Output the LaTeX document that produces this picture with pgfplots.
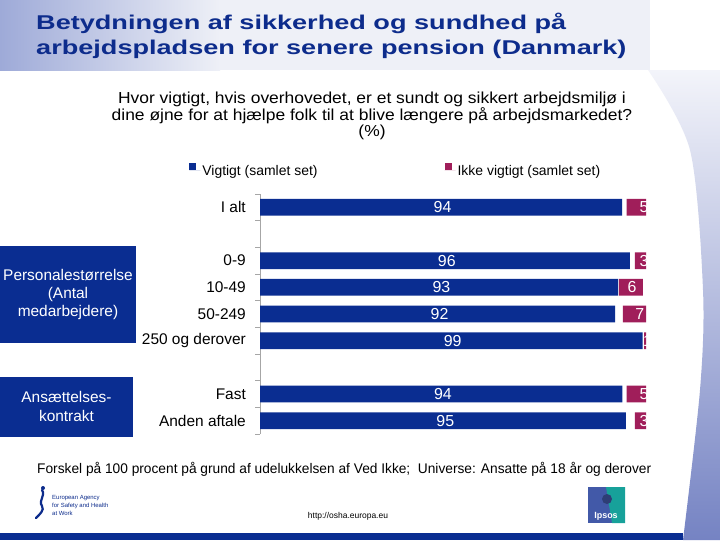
\documentclass[border=0pt]{standalone}
\usepackage{pgfplots}
\pgfplotsset{compat=1.18}
\usepackage{pgfplotstable}
\usepackage{fontspec}
\setmainfont{Liberation Sans}
\usepackage{graphicx}

\definecolor{barblue}{HTML}{0A2D91}
\definecolor{barpink}{HTML}{A01E5A}
\definecolor{titleblue}{HTML}{0D2C8C}
\definecolor{bandleft}{HTML}{9EAAD8}
\definecolor{bandlight}{HTML}{EEF0F7}
\definecolor{swtop}{HTML}{F3F4FA}
\definecolor{swbot}{HTML}{7583C3}
\definecolor{ipsblue}{HTML}{4259A8}
\definecolor{ipsteal}{HTML}{17A19A}

\newcommand{\fs}[1]{\fontsize{#1}{#1}\selectfont}

% y: 8 = I alt (top) ... 0 = Anden aftale (bottom)
\pgfplotstableread{
y vig vedikke ikke
8 93.8 1.2 5.0
6 95.8 1.3 3.2
5 92.8 0.2 6.2
4 92.0 2.0 7.0
3 99.1 0.4 1.0
1 93.9 1.1 5.0
0 94.8 2.3 3.2
}\bars

\pgfplotstableread{
y bx bl px pl
8 47.3 94 99.5 5
6 48.4 96 99.5 3
5 47.0 93 96.4 6
4 46.5 92 98.4 7
3 49.9 99 100.4 1
1 47.4 94 99.5 5
0 48.0 95 99.5 3
}\labs

\begin{document}
\begin{tikzpicture}
\begin{scope}[x=1bp,y=1bp]
\fill[white] (0,0) rectangle (720,540);
\path[use as bounding box] (0,0) rectangle (720,540);

% background decorations
\fill[bandlight] (0,470) rectangle (650,540);
\shade[left color=bandleft, right color=bandlight] (0,470) rectangle (220,540);
\shade[top color=swtop, bottom color=swbot]
  plot[smooth] coordinates {(648,470) (690,390) (703,250) (700,150) (683,0)}
  -- (720,0) -- (720,470) -- cycle;
\fill[barblue] (0,0) rectangle (683,7.3);

% title
\node[anchor=base west, inner sep=0, text=titleblue] at (36,510.5)
  {\scalebox{1.36}[1]{\fs{20}\bfseries Betydningen af sikkerhed og sundhed på}};
\node[anchor=base west, inner sep=0, text=titleblue] at (36,485)
  {\scalebox{1.36}[1]{\fs{20}\bfseries arbejdspladsen for senere pension (Danmark)}};

% subtitle
\node[anchor=base, inner sep=0] at (372,437)
  {\scalebox{1.094}[1]{\fs{16}Hvor vigtigt, hvis overhovedet, er et sundt og sikkert arbejdsmiljø i}};
\node[anchor=base, inner sep=0] at (372,420)
  {\scalebox{1.094}[1]{\fs{16}dine øjne for at hjælpe folk til at blive længere på arbejdsmarkedet?}};
\node[anchor=base, inner sep=0] at (372,404)
  {\scalebox{1.094}[1]{\fs{16}(\%)}};

% group boxes
\fill[barblue] (0,197) rectangle (136,294);
\node[align=center, text=white, inner sep=0, font=\fontsize{15.5}{18.5}\selectfont]
  at (68,245.5) {Personalestørrelse\\(Antal\\medarbejdere)};
\fill[barblue] (0,103.3) rectangle (133,163.3);
\node[align=center, text=white, inner sep=0, font=\fontsize{15.5}{20}\selectfont]
  at (66.5,133.5) {Ansættelses-\\kontrakt};

% footnote
\node[anchor=base west, inner sep=0] at (37,67)
  {\resizebox{614bp}{\height}{\fs{14}Forskel på 100 procent på grund af udelukkelsen af Ved Ikke;\ \ Universe: Ansatte på 18 år og derover}};

% EU-OSHA logo (simplified)
\draw[titleblue, line width=2.2bp, line cap=round] (42,50) .. controls (46,44) and (38,40) .. (42,34) .. controls (45,30) and (39,25) .. (36,22);
\fill[titleblue] (43,52) circle (2bp);
\node[anchor=base west, inner sep=0, text=titleblue, font=\fs{6}] at (52,41) {European Agency};
\node[anchor=base west, inner sep=0, text=titleblue, font=\fs{6}] at (52,33) {for Safety and Health};
\node[anchor=base west, inner sep=0, text=titleblue, font=\fs{6}] at (52,25) {at Work};

\node[anchor=base, inner sep=0, font=\fs{8.5}] at (348,22) {http://osha.europa.eu};

% Ipsos logo (simplified)
\fill[ipsblue] (588,17) rectangle (625,53);
\fill[ipsteal] (606,53) -- (625,53) -- (625,17) -- (612,17) -- cycle;
\fill[ipsblue!70!black] (607,41) circle (5bp);
\node[anchor=base, inner sep=0, text=white, font=\fs{9}\bfseries] at (606,22) {Ipsos};
\end{scope}

\begin{scope}
\clip (0bp,0bp) rectangle (646bp,540bp);
\begin{axis}[
  at={(260bp,106bp)}, anchor=south west,
  scale only axis, width=386bp, height=240bp,
  xmin=0, xmax=100, ymin=-0.5, ymax=8.5,
  xbar stacked, bar width=16.7bp,
  axis x line=none, axis y line*=left,
  y axis line style={draw=gray!70, line width=0.6bp},
  ytick={0,...,8},
  yticklabels={Anden aftale,Fast,,250 og derover,50-249,10-49,0-9,,I alt},
  minor ytick={-0.5,0.5,...,8.5},
  major tick length=0pt, minor tick length=5bp,
  tick align=outside,
  tick style={draw=gray!70, line width=0.6bp},
  yticklabel style={font=\fs{15.5}, inner xsep=0pt, xshift=-14bp},
  legend columns=2,
  legend image code/.code={\fill[#1] (0bp,1bp) rectangle (7bp,8bp); \path (0bp,1bp) -- (11bp,1bp);},
  legend style={at={(axis description cs:-0.183,1.096)}, anchor=west,
    draw=none, fill=none, inner sep=0pt, outer sep=0pt,
    nodes={inner sep=2bp, font=\fs{14}},
    column sep=0pt,
    /tikz/every even column/.append style={column sep=125bp}},
]
\addplot[fill=barblue, draw=none] table[x=vig, y=y]{\bars};
\addlegendentry{Vigtigt (samlet set)}
\addplot[fill=none, draw=none, forget plot] table[x=vedikke, y=y]{\bars};
\addplot[fill=barpink, draw=none] table[x=ikke, y=y]{\bars};
\addlegendentry{Ikke vigtigt (samlet set)}
\end{axis}

\begin{axis}[
  at={(260bp,106bp)}, anchor=south west,
  scale only axis, width=386bp, height=240bp,
  xmin=0, xmax=100, ymin=-0.5, ymax=8.5,
  hide axis, clip=false,
]
\addplot[only marks, mark=*, mark size=0pt, mark options={draw=none, fill=none},
  nodes near coords, point meta=explicit symbolic,
  every node near coord/.append style={anchor=center, text=white, font=\fs{16}, inner sep=0pt}]
  table[x=bx, y=y, meta=bl]{\labs};
\addplot[only marks, mark=*, mark size=0pt, mark options={draw=none, fill=none},
  nodes near coords, point meta=explicit symbolic,
  every node near coord/.append style={anchor=center, text=white, font=\fs{16}, inner sep=0pt}]
  table[x=px, y=y, meta=pl]{\labs};
\end{axis}
\end{scope}
\end{tikzpicture}
\end{document}
